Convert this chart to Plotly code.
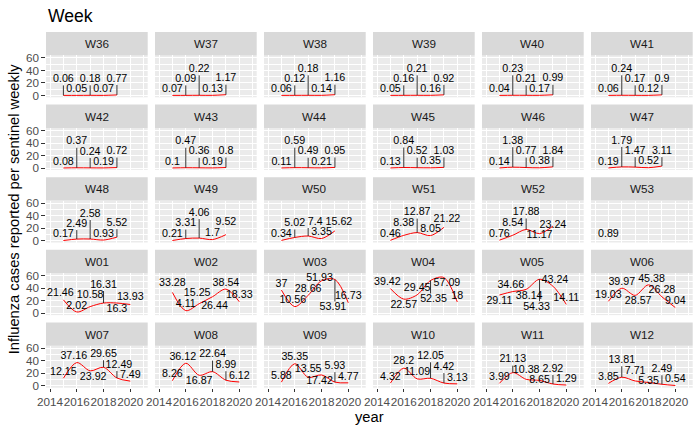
import math
import plotly.graph_objects as go

# ---------------- data ----------------
weeks = ["W36", "W37", "W38", "W39", "W40", "W41",
         "W42", "W43", "W44", "W45", "W46", "W47",
         "W48", "W49", "W50", "W51", "W52", "W53",
         "W01", "W02", "W03", "W04", "W05", "W06",
         "W07", "W08", "W09", "W10", "W11", "W12"]
years = [2015, 2016, 2017, 2018, 2019, 2020]

y2015 = [0.06, 0.07, 0.06, 0.05, 0.04, 0.06,
         0.08, 0.1, 0.11, 0.13, 0.14, 0.19,
         0.17, 0.21, 0.34, 0.46, 0.76, 0.89,
         21.46, 33.28, 37, 39.42, 29.11, 19.03,
         12.15, 8.26, 5.88, 4.32, 3.99, 3.85]
y2016 = [0.05, 0.09, 0.12, 0.16, 0.23, 0.24,
         0.37, 0.47, 0.59, 0.84, 1.38, 1.79,
         2.49, 3.31, 5.02, 8.38, 8.54, None,
         2.02, 4.11, 10.56, 22.57, 34.66, 39.97,
         37.16, 36.12, 35.35, 28.2, 21.13, 13.81]
y2017 = [0.18, 0.22, 0.18, 0.21, 0.21, 0.17,
         0.24, 0.36, 0.49, 0.52, 0.77, 1.47,
         2.58, 4.06, 7.4, 12.87, 17.88, None,
         10.58, 15.25, 28.66, 29.45, 38.14, 28.57,
         23.92, 16.87, 13.55, 11.09, 10.38, 7.71]
y2018 = [0.07, 0.13, 0.14, 0.16, 0.17, 0.12,
         0.19, 0.19, 0.21, 0.35, 0.38, 0.52,
         0.93, 1.7, 3.35, 8.05, 11.17, None,
         16.31, 26.44, 51.93, 52.35, 54.33, 45.38,
         29.65, 22.64, 17.42, 12.05, 8.65, 5.35]
y2019 = [0.77, 1.17, 1.16, 0.92, 0.99, 0.9,
         0.72, 0.8, 0.95, 1.03, 1.84, 3.11,
         5.52, 9.52, 15.62, 21.22, 23.24, None,
         16.3, 38.54, 53.91, 57.09, 43.24, 26.28,
         12.49, 8.99, 5.93, 4.42, 2.92, 2.49]
y2020 = [None, None, None, None, None, None,
         None, None, None, None, None, None,
         None, None, None, None, None, None,
         13.93, 18.33, 16.73, 18, 14.11, 9.04,
         7.49, 6.12, 4.77, 3.13, 1.29, 0.54]

x_ticks = [2014, 2016, 2018, 2020]
x_minor = [2015, 2017, 2019, 2021]
y_ticks = [0, 20, 40, 60]
y_minor = [10, 30, 50]

title_text = "Week"
x_title = "year"
y_title = "Influenza cases reported per sentinel weekly"

series = dict(zip(years, [y2015, y2016, y2017, y2018, y2019, y2020]))

# ---------------- layout geometry (pixels) ----------------
W, H = 700, 432
NCOL, NROW = 6, 5
PANEL_L, PANEL_R = 46.0, 692.7
GAP = 7.3
STRIP_H = 23.4
TOP = 32.0
PANEL_H = 41.9
PW = (PANEL_R - PANEL_L - GAP * (NCOL - 1)) / NCOL
XR = [2013.7, 2021.3]
YR = [-3.0, 64.0]

FONT = "Liberation Sans, Arial, sans-serif"
LAB_FS = 10.7
LAB_H = 9.0
HPAD = 2.0
VPAD = 1.0


def text_w(s):
    return sum((0.278 if ch == "." else 0.556) * LAB_FS for ch in s)


def fmt(v):
    return ("%.2f" % v).rstrip("0").rstrip(".")


fig = go.Figure()
layout_axes = {}
shapes = []
annotations = []

for k, wk in enumerate(weeks):
    r, c = divmod(k, NCOL)
    x0 = PANEL_L + c * (PW + GAP)
    x1 = x0 + PW
    st = TOP + r * (STRIP_H + PANEL_H + GAP)
    pt = st + STRIP_H
    pb = pt + PANEL_H
    n = k + 1
    xname = "x" if n == 1 else "x%d" % n
    yname = "y" if n == 1 else "y%d" % n

    xs = [yr for yr in years if series[yr][k] is not None]
    vs = [series[yr][k] for yr in years if series[yr][k] is not None]
    labs = [fmt(v) for v in vs]

    def to_px(x, y):
        return (x0 + (x - XR[0]) / (XR[1] - XR[0]) * PW,
                pb - (y - YR[0]) / (YR[1] - YR[0]) * PANEL_H)

    def to_data(px, py):
        return (XR[0] + (px - x0) / PW * (XR[1] - XR[0]),
                YR[0] + (pb - py) / PANEL_H * (YR[1] - YR[0]))

    fig.add_trace(go.Scatter(
        x=xs, y=vs, mode="lines",
        line=dict(color="#FF0000", width=1.0, shape="spline", smoothing=0.9),
        xaxis=xname, yaxis=yname, hoverinfo="skip", showlegend=False))

    # greedy repel-like label placement: lowest values first, vertical moves preferred
    pts = [to_px(x, v) for x, v in zip(xs, vs)]
    placed = {}
    order = sorted(range(len(pts)), key=lambda i: vs[i])
    for i in order:
        px, py = pts[i]
        hw = text_w(labs[i]) / 2.0
        hh = LAB_H / 2.0
        best = None
        for dy in range(-30, 31):
            for dx in range(-16, 17):
                cx, cy = px + dx, py + dy
                if cx - hw < x0 + 1 or cx + hw > x1 - 1 or cy - hh < pt + 1 or cy + hh > pb - 1:
                    continue
                ok = True
                for (bx0, by0, bx1, by1) in placed.values():
                    if (cx - hw < bx1 + HPAD and cx + hw > bx0 - HPAD and
                            cy - hh < by1 + VPAD and cy + hh > by0 - VPAD):
                        ok = False
                        break
                if not ok:
                    continue
                cost = 6 * dx * dx + dy * dy + (0.5 if dy > 0 else 0)
                for j, (qx, qy) in enumerate(pts):
                    if cx - hw - 1 < qx < cx + hw + 1 and cy - hh - 1 < qy < cy + hh + 1:
                        cost += 60 if j == i else 40
                if best is None or cost < best[0]:
                    best = (cost, cx, cy)
        if best is None:
            best = (0, px, py - 6)
        _, cx, cy = best
        placed[i] = (cx - hw, cy - hh, cx + hw, cy + hh)

    sx, sy = [], []
    tx, ty = [], []
    for i, (px, py) in enumerate(pts):
        bx0, by0, bx1, by1 = placed[i]
        d = to_data((bx0 + bx1) / 2, (by0 + by1) / 2)
        tx.append(d[0]); ty.append(d[1])
        bx0 -= 1.5; bx1 += 1.5; by0 -= 1.5; by1 += 1.5
        nx = min(max(px, bx0), bx1)
        ny = min(max(py, by0), by1)
        if math.hypot(nx - px, ny - py) > 6:
            a = to_data(px, py)
            b = to_data(nx, ny)
            sx += [a[0], b[0], None]
            sy += [a[1], b[1], None]
    if sx:
        fig.add_trace(go.Scatter(
            x=sx, y=sy, mode="lines", line=dict(color="black", width=0.8),
            xaxis=xname, yaxis=yname, hoverinfo="skip", showlegend=False))

    fig.add_trace(go.Scatter(
        x=tx, y=ty, mode="text", text=labs, textposition="middle center",
        textfont=dict(family=FONT, size=LAB_FS, color="black"),
        cliponaxis=False, xaxis=xname, yaxis=yname,
        hoverinfo="skip", showlegend=False))

    bottom = (r == NROW - 1)
    left = (c == 0)
    layout_axes["xaxis" if n == 1 else "xaxis%d" % n] = dict(
        domain=[x0 / W, x1 / W], anchor=yname, range=XR,
        tickmode="array", tickvals=x_ticks, ticktext=[str(t) for t in x_ticks],
        showticklabels=bottom, ticks="outside" if bottom else "",
        ticklen=3.7, tickwidth=1.07, tickcolor="#333333", tickangle=0,
        tickfont=dict(family=FONT, size=11.7, color="#4D4D4D"),
        showgrid=True, gridcolor="white", gridwidth=1.07,
        minor=dict(tickmode="array", tickvals=x_minor, showgrid=True,
                   gridcolor="white", gridwidth=0.53, ticks=""),
        zeroline=False, showline=False, automargin=False, fixedrange=True)
    layout_axes["yaxis" if n == 1 else "yaxis%d" % n] = dict(
        domain=[1 - pb / H, 1 - pt / H], anchor=xname, range=YR,
        tickmode="array", tickvals=y_ticks, ticktext=[str(t) for t in y_ticks],
        showticklabels=left, ticks="outside" if left else "",
        ticklen=3.7, tickwidth=1.07, tickcolor="#333333",
        tickfont=dict(family=FONT, size=11.7, color="#4D4D4D"),
        showgrid=True, gridcolor="white", gridwidth=1.07,
        minor=dict(tickmode="array", tickvals=y_minor, showgrid=True,
                   gridcolor="white", gridwidth=0.53, ticks=""),
        zeroline=False, showline=False, automargin=False, fixedrange=True)

    shapes.append(dict(type="rect", xref="paper", yref="paper",
                       x0=x0 / W, x1=x1 / W, y0=1 - pt / H, y1=1 - st / H,
                       fillcolor="#D9D9D9", line=dict(width=0), layer="below"))
    annotations.append(dict(text=wk, xref="paper", yref="paper",
                            x=(x0 + x1) / 2 / W, y=1 - (st + STRIP_H / 2) / H,
                            xanchor="center", yanchor="middle", showarrow=False,
                            font=dict(family=FONT, size=11.7, color="#1A1A1A")))

annotations.append(dict(text=title_text, xref="paper", yref="paper",
                        x=PANEL_L / W, y=1 - 15.5 / H, xanchor="left", yanchor="middle",
                        showarrow=False, font=dict(family=FONT, size=17.6, color="black")))
annotations.append(dict(text=x_title, xref="paper", yref="paper",
                        x=(PANEL_L + PANEL_R) / 2 / W, y=1 - 417 / H,
                        xanchor="center", yanchor="middle", showarrow=False,
                        font=dict(family=FONT, size=14.7, color="black")))
panels_bottom = TOP + 4 * (STRIP_H + PANEL_H + GAP) + STRIP_H + PANEL_H
annotations.append(dict(text=y_title, xref="paper", yref="paper",
                        x=13.5 / W, y=1 - (TOP + panels_bottom) / 2 / H,
                        xanchor="center", yanchor="middle", textangle=-90, showarrow=False,
                        font=dict(family=FONT, size=14.7, color="black")))

fig.update_layout(
    width=W, height=H, margin=dict(l=0, r=0, t=0, b=0),
    paper_bgcolor="white", plot_bgcolor="#EBEBEB",
    showlegend=False, hovermode=False,
    shapes=shapes, annotations=annotations,
    **layout_axes)

fig.write_html("out.html", config={"displayModeBar": False},
               post_script="document.body.style.margin='0';document.body.style.overflow='hidden';")
